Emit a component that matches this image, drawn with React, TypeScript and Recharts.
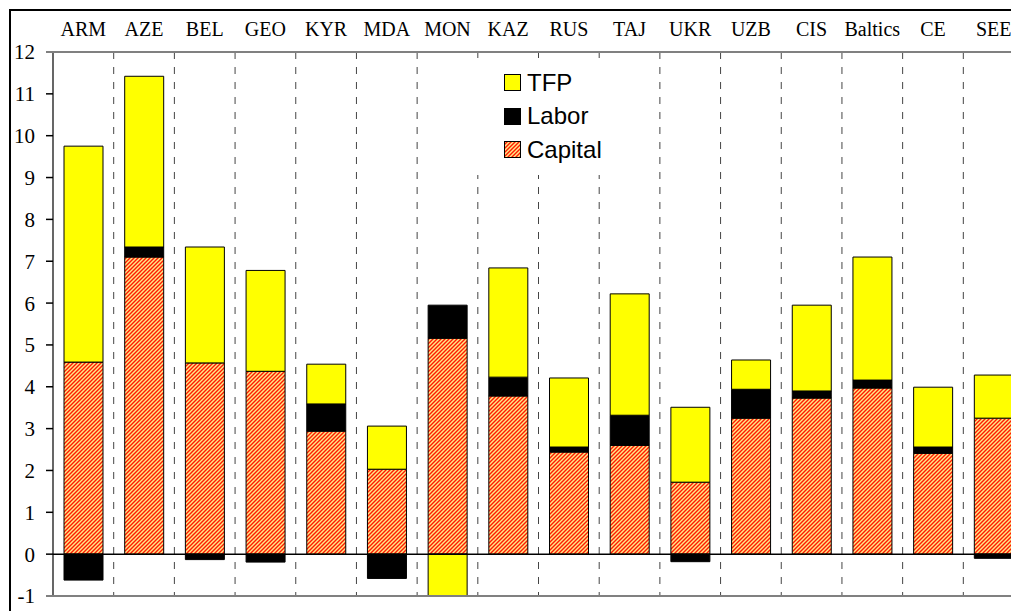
import React from 'react'
import { BarChart, Bar, XAxis, YAxis, CartesianGrid, ReferenceLine, Legend } from 'recharts'

const categories = ['ARM', 'AZE', 'BEL', 'GEO', 'KYR', 'MDA', 'MON', 'KAZ', 'RUS', 'TAJ', 'UKR', 'UZB', 'CIS', 'Baltics', 'CE', 'SEE']
const capital = [4.59, 7.1, 4.57, 4.37, 2.94, 2.03, 5.16, 3.78, 2.44, 2.6, 1.72, 3.25, 3.73, 3.97, 2.41, 3.25]
const labor = [-0.62, 0.24, -0.13, -0.19, 0.65, -0.58, 0.79, 0.45, 0.12, 0.72, -0.18, 0.69, 0.17, 0.19, 0.15, -0.1]
const tfp = [5.16, 4.08, 2.77, 2.41, 0.95, 1.03, -1.08, 2.61, 1.65, 2.9, 1.79, 0.7, 2.05, 2.94, 1.43, 1.03]
const yTicks = [-1, 0, 1, 2, 3, 4, 5, 6, 7, 8, 9, 10, 11, 12]

const legendItems = [
  { name: 'TFP', fill: '#ffff00' },
  { name: 'Labor', fill: '#000000' },
  { name: 'Capital', fill: 'url(#capHatchLegend)' }
]

const data = categories.map((name, i) => ({
  name,
  capital: capital[i],
  labor: labor[i],
  tfp: tfp[i]
}))

const serif = '"Liberation Serif", "Times New Roman", serif'
const sans = '"Liberation Sans", Arial, sans-serif'

function Hatch({ id }: { id: string }) {
  return (
    <pattern id={id} patternUnits="userSpaceOnUse" width={4} height={4}>
      <rect width={4} height={4} fill="#ffe888" />
      <path d="M0,4 L4,0 M-1,1 L1,-1 M3,5 L5,3" stroke="#ff1800" strokeWidth={1.4} />
    </pattern>
  )
}

const TopTick = (props: any) => {
  const { x, payload } = props
  return (
    <text x={x} y={36} textAnchor="middle" fontFamily={serif} fontSize={20} fill="#000">
      {payload.value}
    </text>
  )
}

// y label plus its small tick mark (label sits 11px left of the mark)
const LeftTick = (props: any) => {
  const { x, y, payload } = props
  return (
    <g>
      <line x1={x + 11} y1={y} x2={x + 18} y2={y} stroke="#000" strokeWidth={1.5} />
      <text x={x} y={y} dy="0.355em" textAnchor="end" fontFamily={serif} fontSize={21} fill="#000">
        {payload.value}
      </text>
    </g>
  )
}

const LegendBox = () => (
  <div style={{ background: '#fff', padding: '8px 0', width: 175 }}>
    {legendItems.map((it) => (
      <div key={it.name} style={{ display: 'flex', alignItems: 'center', height: 33.5 }}>
        <svg width={17} height={17} style={{ marginLeft: 34 }}>
          <defs>{it.name === 'Capital' ? <Hatch id="capHatchLegend" /> : null}</defs>
          <rect x={0.5} y={0.5} width={16} height={16} fill={it.fill} stroke="#000" strokeWidth={1} />
        </svg>
        <span style={{ fontFamily: sans, fontSize: 24, marginLeft: 6, color: '#000', lineHeight: 1 }}>
          {it.name}
        </span>
      </div>
    ))}
  </div>
)

const frameLine = (top: number): React.CSSProperties => ({
  position: 'absolute',
  left: 46,
  top,
  width: 1000,
  height: 2,
  background: '#808080',
  pointerEvents: 'none'
})

export default function App() {
  return (
    <div style={{ position: 'fixed', left: 0, top: 0, width: 1011, height: 611, overflow: 'hidden', background: '#fff' }}>
      <div
        style={{
          position: 'absolute',
          left: 9,
          top: 9,
          width: 1100,
          height: 700,
          boxSizing: 'border-box',
          borderLeft: '2px solid #000',
          borderTop: '2px solid #000'
        }}
      />
      <div style={{ position: 'absolute', left: 0, top: 0 }}>
        <BarChart
          width={1040}
          height={611}
          data={data}
          stackOffset="sign"
          margin={{ top: 22, right: 16, bottom: 15, left: 0 }}
        >
          <defs>
            <Hatch id="capHatch" />
          </defs>
          <CartesianGrid
            horizontal={false}
            stroke="#444"
            strokeDasharray="7 8"
            verticalCoordinatesGenerator={({ offset }: any) =>
              categories.slice(1).map((_, i) => offset.left + ((i + 1) * offset.width) / categories.length)
            }
          />
          <XAxis
            dataKey="name"
            orientation="top"
            axisLine={false}
            tickLine={false}
            height={30}
            interval={0}
            tick={<TopTick />}
          />
          <YAxis
            width={53}
            domain={[-1, 12]}
            ticks={yTicks}
            allowDataOverflow
            interval={0}
            tickSize={7}
            tickMargin={11}
            axisLine={{ stroke: '#000', strokeWidth: 1.2 }}
            tickLine={false}
            tick={<LeftTick />}
          />
          <ReferenceLine y={0} stroke="#000" strokeWidth={1.5} ifOverflow="visible" />
          <Bar dataKey="capital" stackId="a" fill="url(#capHatch)" stroke="#000" strokeWidth={1} barSize={39} isAnimationActive={false} />
          <Bar dataKey="labor" stackId="a" fill="#000" stroke="#000" strokeWidth={1} barSize={39} isAnimationActive={false} />
          <Bar dataKey="tfp" stackId="a" fill="#ffff00" stroke="#000" strokeWidth={1} barSize={39} isAnimationActive={false} />
          <Legend
            layout="vertical"
            align="center"
            verticalAlign="middle"
            content={<LegendBox />}
            wrapperStyle={{ left: 470, top: 58, width: 175 }}
          />
        </BarChart>
      </div>
      <div style={frameLine(51)} />
      <div style={frameLine(595)} />
    </div>
  )
}
